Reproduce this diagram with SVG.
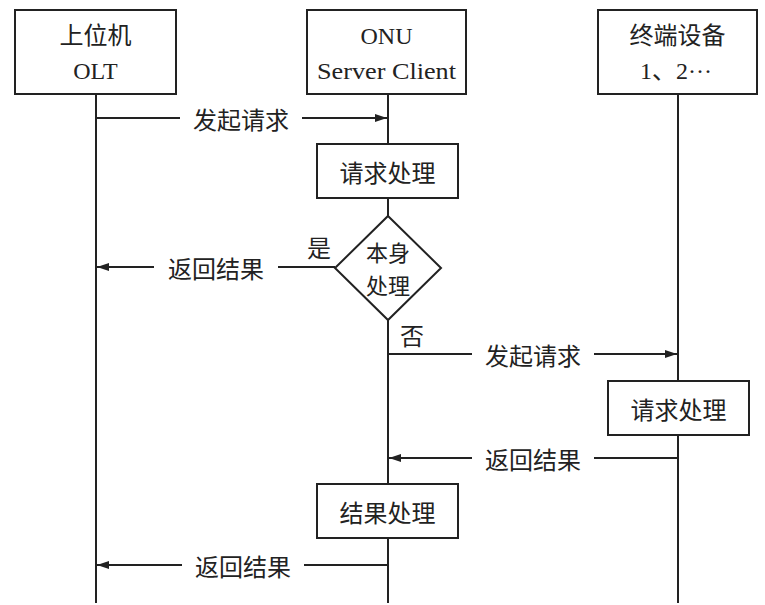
<svg xmlns="http://www.w3.org/2000/svg" width="765" height="605" viewBox="0 0 765 605">
<defs>
<style>
.box{fill:#fff;stroke:#222;stroke-width:2}
.ln{fill:none;stroke:#222;stroke-width:2}
.cn{font-family:"Noto Sans CJK SC","Liberation Serif",serif;font-size:24px;fill:#222;text-anchor:middle;dominant-baseline:central}
.sm{font-size:22px}
.lt{font-family:"Liberation Serif","Noto Sans CJK SC",serif;font-size:24px;fill:#222;text-anchor:middle;dominant-baseline:central}
</style>
<marker id="ah" viewBox="0 0 12 8" refX="12" refY="4" markerWidth="12" markerHeight="8" markerUnits="userSpaceOnUse" orient="auto">
<path d="M0,0 L12,4 L0,8 Z" fill="#222"/>
</marker>
</defs>
<rect width="765" height="605" fill="#fff"/>
<g id="connectors">
<line class="ln" x1="96" y1="94" x2="96" y2="603"/>
<line class="ln" x1="388" y1="94" x2="388" y2="603"/>
<line class="ln" x1="678" y1="94" x2="678" y2="603"/>
<line class="ln" x1="96" y1="118" x2="180" y2="118"/>
<line class="ln" x1="302" y1="118" x2="387" y2="118" marker-end="url(#ah)"/>
<text class="cn" x="241" y="118">发起请求</text>
<line class="ln" x1="335" y1="267" x2="278" y2="267"/>
<line class="ln" x1="154" y1="267" x2="97" y2="267" marker-end="url(#ah)"/>
<text class="cn" x="216" y="267">返回结果</text>
<text class="cn" x="319" y="246">是</text>
<text class="cn" x="412" y="334">否</text>
<line class="ln" x1="388" y1="354" x2="472" y2="354"/>
<line class="ln" x1="594" y1="354" x2="677" y2="354" marker-end="url(#ah)"/>
<text class="cn" x="533" y="354">发起请求</text>
<line class="ln" x1="678" y1="458" x2="594" y2="458"/>
<line class="ln" x1="472" y1="458" x2="389" y2="458" marker-end="url(#ah)"/>
<text class="cn" x="533" y="458">返回结果</text>
<line class="ln" x1="388" y1="565" x2="304" y2="565"/>
<line class="ln" x1="182" y1="565" x2="97" y2="565" marker-end="url(#ah)"/>
<text class="cn" x="243" y="565">返回结果</text>
</g>
<g id="olt">
<rect class="box" x="15" y="10" width="161" height="84"/>
<text class="cn" x="95.5" y="33">上位机</text>
<text class="lt" x="95.5" y="71">OLT</text>
</g>
<g id="onu">
<rect class="box" x="307" y="10" width="159" height="84"/>
<text class="lt" x="386.5" y="36">ONU</text>
<text class="lt" x="386.5" y="71" textLength="139" lengthAdjust="spacingAndGlyphs">Server Client</text>
</g>
<g id="terminal">
<rect class="box" x="598" y="10" width="159" height="84"/>
<text class="cn" x="677.5" y="33">终端设备</text>
<text class="lt" x="676" y="71">1、2···</text>
</g>
<g id="req1">
<rect class="box" x="317" y="144" width="141" height="54"/>
<text class="cn" x="387.5" y="171">请求处理</text>
</g>
<g id="decision">
<path class="box" d="M388,216 L441,268 L388,320 L335,268 Z"/>
<text class="cn sm" x="388" y="251">本身</text>
<text class="cn sm" x="388" y="284">处理</text>
</g>
<g id="req2">
<rect class="box" x="608" y="381" width="141" height="54"/>
<text class="cn" x="678.5" y="408">请求处理</text>
</g>
<g id="result">
<rect class="box" x="317" y="484" width="141" height="54"/>
<text class="cn" x="387.5" y="511">结果处理</text>
</g>
</svg>
